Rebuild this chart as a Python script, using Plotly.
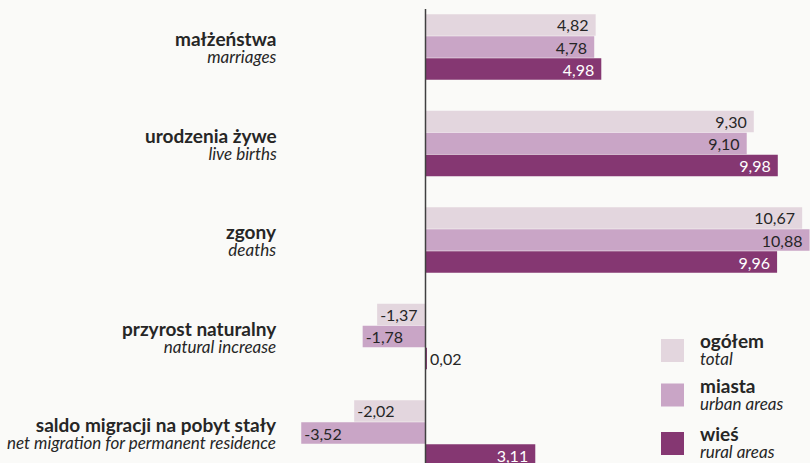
import plotly.graph_objects as go

categories_pl = ["małżeństwa", "urodzenia żywe", "zgony", "przyrost naturalny",
                 "saldo migracji na pobyt stały"]
categories_en = ["marriages", "live births", "deaths", "natural increase",
                 "net migration for permanent residence"]
series_names_pl = ["ogółem", "miasta", "wieś"]
series_names_en = ["total", "urban areas", "rural areas"]
total = [4.82, 9.30, 10.67, -1.37, -2.02]
urban = [4.78, 9.10, 10.88, -1.78, -3.52]
rural = [4.98, 9.98, 9.96, 0.02, 3.11]

colors = ["#e3d6de", "#c9a5c6", "#853772"]
text_colors = ["#262626", "#262626", "#ffffff"]
FONT = "Lato, 'Open Sans', sans-serif"
W, H = 810, 463
zero_px, px_per_unit = 425.5, 35.3
top_center_px, period_px = 47, 96.5
BOLD_SIZE, ITAL_SIZE, VAL_SIZE = 19, 17, 16

ypos = list(range(len(categories_pl)))


def fmt(v):
    s = f"{v:.2f}".replace(".", ",")
    return s + "\u00a0" if v > 0 else s


def two_line(bold, ital):
    return (f'<span style="font-size:{BOLD_SIZE}px"><b>{bold}</b></span><br>'
            f'<span style="font-size:{ITAL_SIZE}px"><i>{ital}</i></span>')


fig = go.Figure()
for name, vals, col, tcol in zip(series_names_pl, [total, urban, rural], colors, text_colors):
    positions = ["outside" if abs(v) < 0.5 else "inside" for v in vals]
    fig.add_trace(go.Bar(
        y=ypos, x=vals, orientation="h", name=name,
        marker=dict(color=col, line=dict(width=0)),
        text=[fmt(v) for v in vals], textposition=positions,
        insidetextanchor="end",
        insidetextfont=dict(color=tcol, size=VAL_SIZE, family=FONT),
        outsidetextfont=dict(color="#262626", size=VAL_SIZE, family=FONT),
        hoverinfo="skip", showlegend=False, cliponaxis=False,
    ))

x_left = -zero_px / px_per_unit
x_right = (W - zero_px) / px_per_unit
y_top = -top_center_px / period_px
y_bottom = (H - top_center_px) / period_px

annotations = []
label_x = (279 - zero_px) / px_per_unit
for i, (pl, en) in enumerate(zip(categories_pl, categories_en)):
    annotations.append(dict(
        x=label_x, y=i, xref="x", yref="y", xanchor="right", yanchor="middle",
        align="right", showarrow=False, text=two_line(pl, en),
        font=dict(size=13.3, color="#262626", family=FONT),
    ))

shapes = [dict(type="line", xref="x", yref="paper", x0=0, x1=0, y0=0, y1=1 - 9 / H,
               line=dict(color="#404040", width=1.5))]

legend_tops = [339, 383.5, 432]
for (pl, en, col, top) in zip(series_names_pl, series_names_en, colors, legend_tops):
    shapes.append(dict(type="rect", xref="paper", yref="paper",
                       x0=661 / W, x1=684 / W, y0=1 - (top + 23) / H, y1=1 - top / H,
                       fillcolor=col, line=dict(width=0)))
    annotations.append(dict(
        x=698 / W, y=1 - (top + 10) / H, xref="paper", yref="paper",
        xanchor="left", yanchor="middle", align="left", showarrow=False,
        text=two_line(pl, en),
        font=dict(size=13.3, color="#262626", family=FONT),
    ))

fig.update_layout(
    width=W, height=H,
    margin=dict(l=0, r=0, t=0, b=0),
    paper_bgcolor="#fafaf8", plot_bgcolor="#fafaf8",
    barmode="group", bargap=0.315, bargroupgap=0.02,
    xaxis=dict(range=[x_left, x_right], visible=False, fixedrange=True),
    yaxis=dict(range=[y_bottom, y_top], visible=False, fixedrange=True),
    annotations=annotations, shapes=shapes,
    uniformtext=dict(mode="show", minsize=VAL_SIZE),
)

fig.write_html(
    "out.html", config={"displayModeBar": False},
    post_script="document.body.style.margin='0';document.body.style.overflow='hidden';",
)
